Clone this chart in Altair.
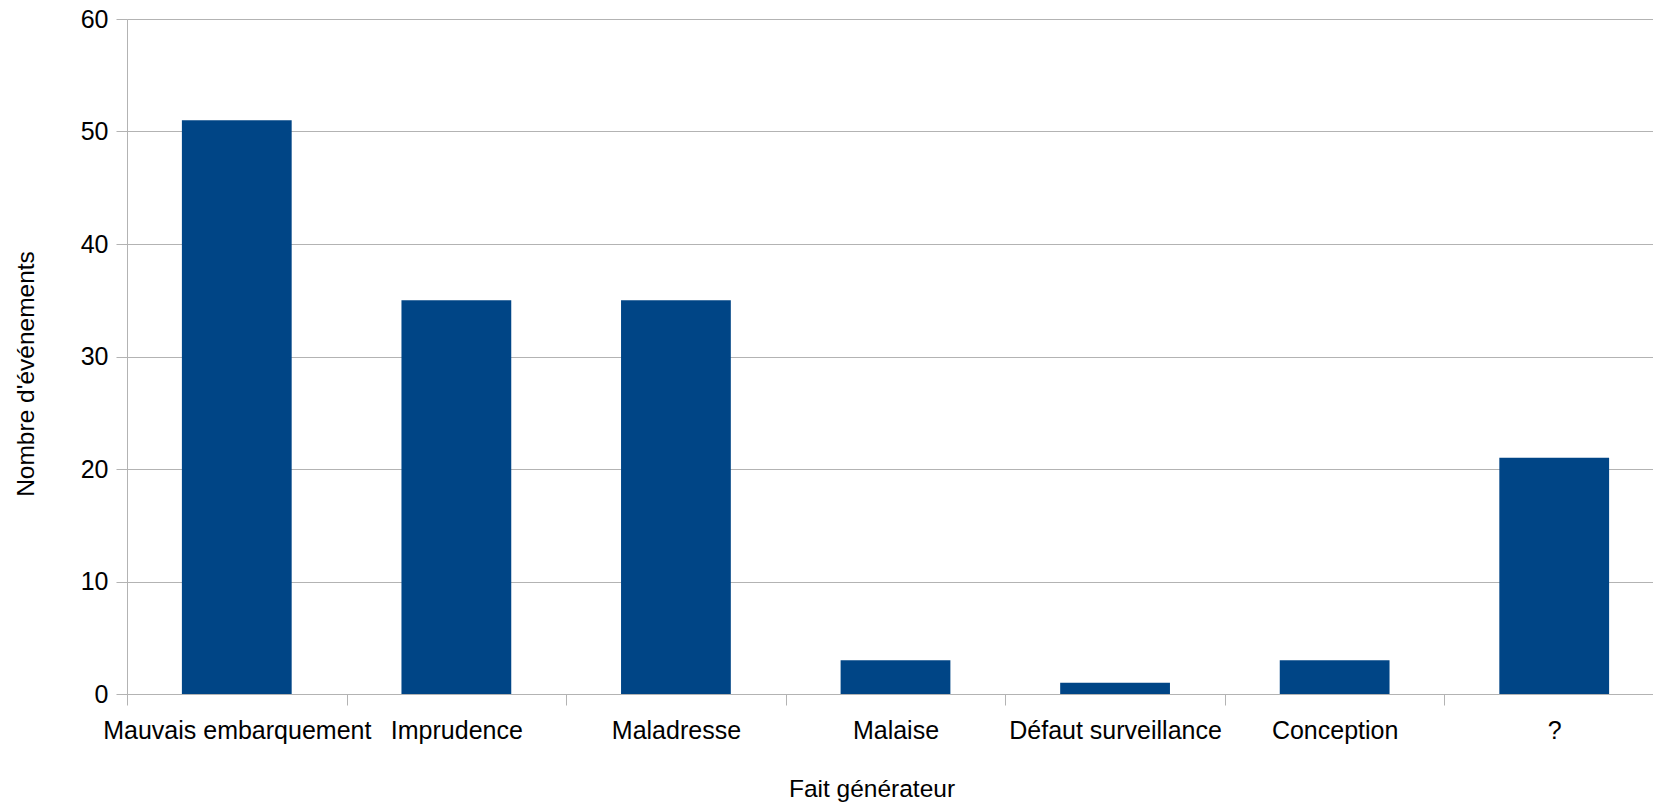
import altair as alt
import pandas as pd

categories = ["Mauvais embarquement", "Imprudence", "Maladresse", "Malaise",
              "Défaut surveillance", "Conception", "?"]
values = [51, 35, 35, 3, 1, 3, 21]
y_ticks = [0, 10, 20, 30, 40, 50, 60]

df = pd.DataFrame({"cat": categories, "val": values})

FONT = "Liberation Sans"
GREY = "#b3b3b3"

chart = alt.Chart(df).mark_bar(color="#004586", width=alt.RelativeBandSize(0.5)).encode(
    x=alt.X("cat:N", sort=categories,
            scale=alt.Scale(paddingInner=0, paddingOuter=0, range=[0, 1537]),
            axis=alt.Axis(title="Fait générateur", labelAngle=0, tickBand="extent",
                          tickSize=11, tickColor=GREY, domainColor=GREY,
                          labelFont=FONT, labelFontSize=25, labelColor="#000000",
                          labelPadding=13, labelOverlap=False, labelLimit=0,
                          titleFont=FONT, titleFontSize=24.5, titleFontWeight="normal",
                          titleColor="#000000", titleX=744.5, titleY=102,
                          titleBaseline="alphabetic", titleAlign="center")),
    y=alt.Y("val:Q", scale=alt.Scale(domain=[0, 60], nice=False),
            axis=alt.Axis(title="Nombre d'événements", values=y_ticks,
                          grid=True, gridColor=GREY, tickSize=11, tickColor=GREY,
                          domainColor=GREY, labelFont=FONT, labelFontSize=25,
                          labelColor="#000000", labelPadding=8,
                          titleFont=FONT, titleFontSize=24.5, titleFontWeight="normal",
                          titleColor="#000000", titleX=-94, titleY=354.5,
                          titleBaseline="alphabetic", titleAlign="center", titleAngle=270)),
).properties(
    width=1526, height=675,
    autosize=alt.AutoSizeParams(type="none"),
    padding={"left": 127, "top": 19, "right": 0, "bottom": 109},
).configure_view(strokeWidth=0).configure(background="white")

chart.save("out.html", embed_options={"renderer": "svg", "actions": False})
